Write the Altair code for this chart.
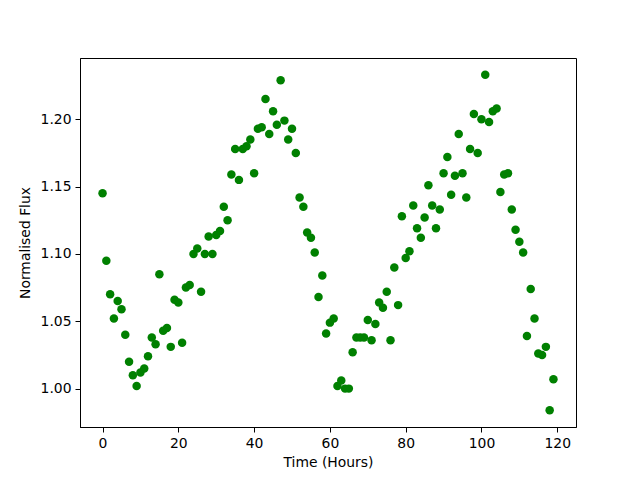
import altair as alt
import pandas as pd

hours = list(range(120))
flux = [
    1.145, 1.095, 1.070, 1.052, 1.065, 1.059, 1.040, 1.020, 1.010, 1.002,
    1.012, 1.015, 1.024, 1.038, 1.033, 1.085, 1.043, 1.045, 1.031, 1.066,
    1.064, 1.034, 1.075, 1.077, 1.100, 1.104, 1.072, 1.100, 1.113, 1.100,
    1.114, 1.117, 1.135, 1.125, 1.159, 1.178, 1.155, 1.178, 1.180, 1.185,
    1.160, 1.193, 1.194, 1.215, 1.189, 1.206, 1.196, 1.229, 1.199, 1.185,
    1.193, 1.175, 1.142, 1.135, 1.116, 1.112, 1.101, 1.068, 1.084, 1.041,
    1.049, 1.052, 1.002, 1.006, 1.000, 1.000, 1.027, 1.038, 1.038, 1.038,
    1.051, 1.036, 1.048, 1.064, 1.060, 1.072, 1.036, 1.090, 1.062, 1.128,
    1.097, 1.102, 1.136, 1.119, 1.112, 1.127, 1.151, 1.136, 1.119, 1.133,
    1.160, 1.172, 1.144, 1.158, 1.189, 1.160, 1.142, 1.178, 1.204, 1.175,
    1.200, 1.233, 1.198, 1.206, 1.208, 1.146, 1.159, 1.160, 1.133, 1.118,
    1.109, 1.101, 1.039, 1.074, 1.052, 1.026, 1.025, 1.031, 0.984, 1.007,
]
x_ticks = [0, 20, 40, 60, 80, 100, 120]
y_ticks = [1.00, 1.05, 1.10, 1.15, 1.20]

df = pd.DataFrame({"t": hours, "f": flux})

font = "DejaVu Sans"

chart = alt.Chart(df).mark_circle(color="#008000", opacity=1, size=72).encode(
    x=alt.X("t:Q", scale=alt.Scale(domain=[-5.95, 124.95], nice=False, zero=False),
            axis=alt.Axis(title="Time (Hours)", values=x_ticks, format="d",
                          titlePadding=6)),
    y=alt.Y("f:Q", scale=alt.Scale(domain=[0.9715, 1.2455], nice=False, zero=False),
            axis=alt.Axis(title="Normalised Flux", values=y_ticks, format=".2f",
                          titlePadding=8)),
).properties(
    width=496, height=369,
    background="white",
    autosize=alt.AutoSizeParams(type="none"),
    padding={"left": 72, "top": 50, "right": 56, "bottom": 45},
).configure_view(
    stroke="black", strokeWidth=1
).configure_axis(
    grid=False, domainColor="black", domainWidth=1, tickColor="black", tickSize=5,
    tickWidth=1, labelPadding=4, labelColor="black", labelFont=font, labelFontSize=13.9,
    titleFont=font, titleFontSize=13.9, titleFontWeight="normal", titleColor="black",
)

chart.save("out.html", embed_options={"renderer": "svg", "actions": False})
